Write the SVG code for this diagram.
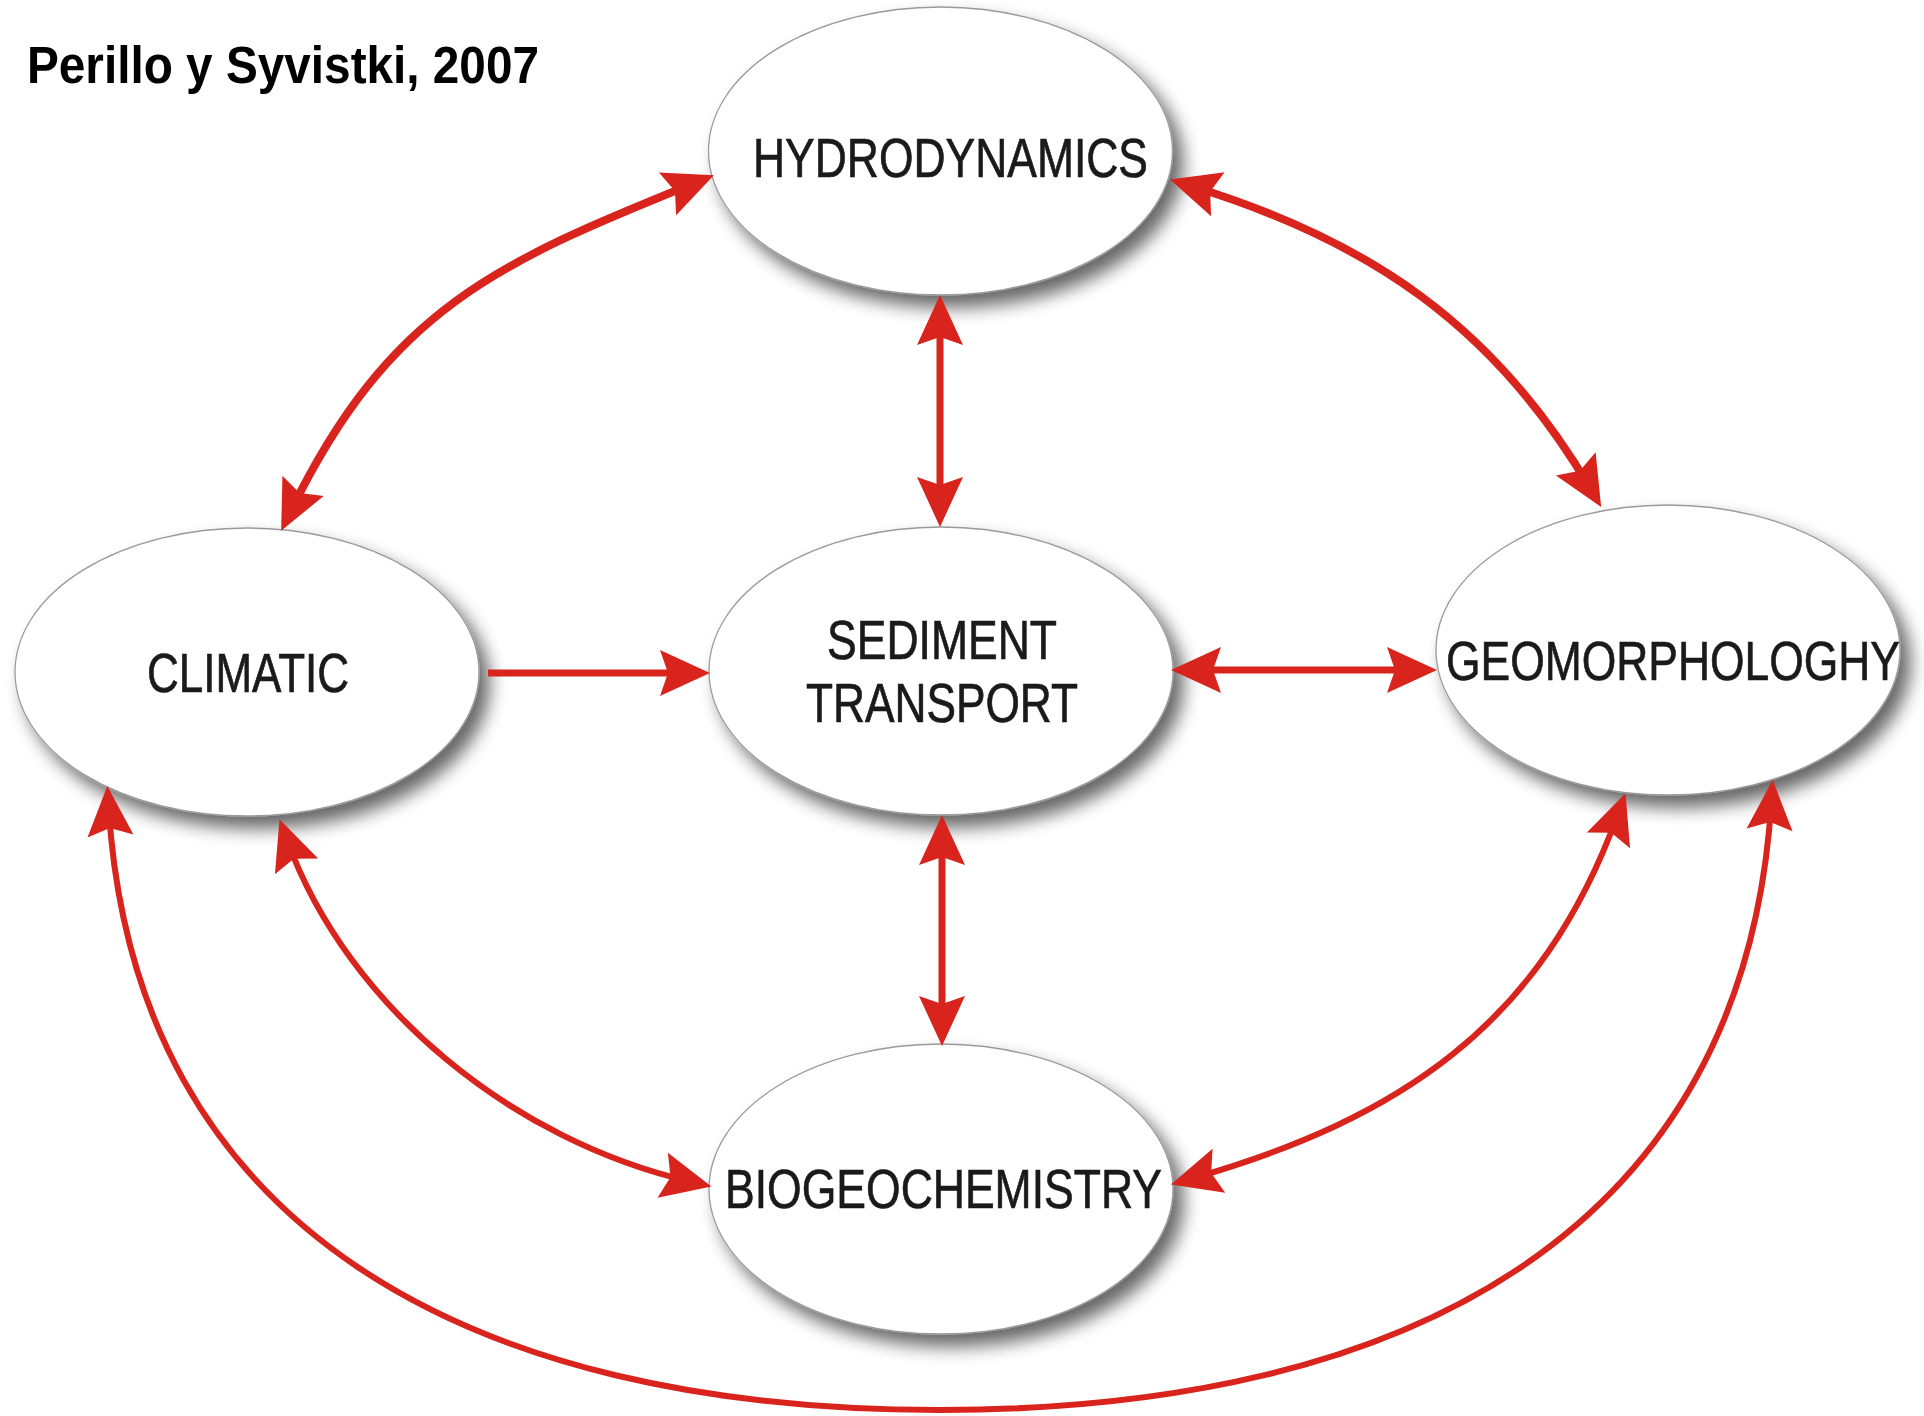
<svg xmlns="http://www.w3.org/2000/svg" width="1924" height="1416" viewBox="0 0 1924 1416">
<defs>
<style>
.node ellipse{fill:#ffffff;stroke:#9a9a9a;stroke-width:1.3;}
.lbl{font-family:"Liberation Sans",Arial,sans-serif;font-size:55px;fill:#1a1a1a;stroke:#1a1a1a;stroke-width:0.7;}
.title{font-family:"Liberation Sans",Arial,sans-serif;font-size:51px;font-weight:bold;fill:#000;}
.c{fill:none;stroke:#d8241c;}
.w8{stroke-width:8;}
.w7{stroke-width:7;}
.w6{stroke-width:6;}
</style>
<filter id="sh" x="-20%" y="-20%" width="150%" height="160%">
<feGaussianBlur in="SourceAlpha" stdDeviation="9"/>
<feOffset dx="10" dy="12" result="b"/>
<feComponentTransfer><feFuncA type="linear" slope="0.6"/></feComponentTransfer>
<feMerge><feMergeNode/><feMergeNode in="SourceGraphic"/></feMerge>
</filter>
<marker id="ah" viewBox="-40 -30 70 60" refX="0" refY="0" markerWidth="70" markerHeight="60" markerUnits="userSpaceOnUse" orient="auto-start-reverse" overflow="visible">
<path d="M22,0 L-28,-23 L-20,0 L-28,23 Z" fill="#d8241c"/>
</marker>
</defs>
<rect width="1924" height="1416" fill="#ffffff"/>
<text class="title" x="27" y="83" textLength="512" lengthAdjust="spacingAndGlyphs">Perillo y Syvistki, 2007</text>

<g id="hydrodynamics" class="node">
<ellipse cx="940.5" cy="151" rx="232" ry="144" filter="url(#sh)"/>
<text class="lbl" x="753" y="177" textLength="395" lengthAdjust="spacingAndGlyphs">HYDRODYNAMICS</text>
</g>
<g id="climatic" class="node">
<ellipse cx="247" cy="672" rx="232" ry="144" filter="url(#sh)"/>
<text class="lbl" x="147" y="692" textLength="202" lengthAdjust="spacingAndGlyphs">CLIMATIC</text>
</g>
<g id="sediment-transport" class="node">
<ellipse cx="941" cy="671" rx="232" ry="144" filter="url(#sh)"/>
<text class="lbl" x="827" y="659" textLength="230" lengthAdjust="spacingAndGlyphs">SEDIMENT</text>
<text class="lbl" x="806" y="722" textLength="272" lengthAdjust="spacingAndGlyphs">TRANSPORT</text>
</g>
<g id="geomorphologhy" class="node">
<ellipse cx="1668" cy="650" rx="232" ry="145" filter="url(#sh)"/>
<text class="lbl" x="1446" y="680" textLength="454" lengthAdjust="spacingAndGlyphs">GEOMORPHOLOGHY</text>
</g>
<g id="biogeochemistry" class="node">
<ellipse cx="941" cy="1189" rx="232" ry="145" filter="url(#sh)"/>
<text class="lbl" x="725" y="1208" textLength="437" lengthAdjust="spacingAndGlyphs">BIOGEOCHEMISTRY</text>
</g>

<g id="connectors">
<path class="c w7" d="M940,317 L940,505" marker-start="url(#ah)" marker-end="url(#ah)"/>
<path class="c w7" d="M942,837 L942,1024" marker-start="url(#ah)" marker-end="url(#ah)"/>
<path class="c w7" d="M488,673 L688,673" marker-end="url(#ah)"/>
<path class="c w7" d="M1193,670 L1415,670" marker-start="url(#ah)" marker-end="url(#ah)"/>
<path class="c w8" d="M290.8,511 C389,310 496,263 693.5,183.5" marker-start="url(#ah)" marker-end="url(#ah)"/>
<path class="c w8" d="M1191,186 C1368,240 1494,325 1590,488" marker-start="url(#ah)" marker-end="url(#ah)"/>
<path class="c w6" d="M287,840 C348,1008 514,1141 690,1181.5" marker-start="url(#ah)" marker-end="url(#ah)"/>
<path class="c w6" d="M1618,814 C1541,1026 1399,1119 1192,1178.5" marker-start="url(#ah)" marker-end="url(#ah)"/>
<path class="c w6" d="M108.7,808 C135,1230 470,1410 940,1410 C1410,1410 1745,1230 1771.3,802" marker-start="url(#ah)" marker-end="url(#ah)"/>
</g>
</svg>
